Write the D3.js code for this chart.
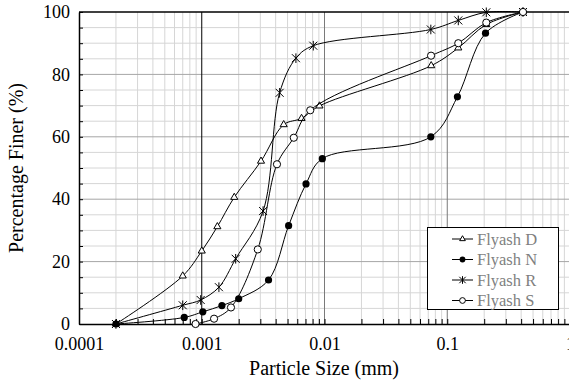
<!DOCTYPE html>
<html>
<head>
<meta charset="utf-8">
<script src="https://cdn.jsdelivr.net/npm/d3@7"></script>
<style>
	body { margin: 0; background: #fff; }
	text { font-family: 'Liberation Serif', 'Times New Roman', serif; }
</style>
</head>
<body>
<svg id="viz"></svg>
<script>
// particle size (mm) and percentage finer for each fly ash
var sizesD = [ 0.0002, 0.0007, 0.001, 0.00134, 0.00184, 0.00304, 0.00465, 0.0065, 0.0091, 0.074, 0.123, 0.208, 0.414 ];
var finerD = [ 0, 15.4, 23.4, 31.2, 40.6, 52.2, 63.9, 65.9, 69.9, 82.8, 88.5, 96, 100 ];

var sizesN = [ 0.0002, 0.00072, 0.00102, 0.00146, 0.002, 0.0035, 0.0051, 0.00707, 0.0096, 0.0735, 0.121, 0.205, 0.414 ];
var finerN = [ 0, 2.1, 3.9, 5.9, 8.1, 14.1, 31.5, 44.9, 53, 60, 72.8, 93.2, 100 ];

var sizesR = [ 0.0002, 0.0007, 0.00098, 0.00138, 0.00189, 0.00316, 0.00431, 0.00585, 0.0081, 0.0735, 0.123, 0.208, 0.414 ];
var finerR = [ 0, 6, 7.7, 11.8, 20.9, 36.2, 74.1, 85.2, 89.2, 94.4, 97.3, 99.9, 100 ];

var sizesS = [ 0.00089, 0.00126, 0.00173, 0.00286, 0.0041, 0.00562, 0.00765, 0.0738, 0.123, 0.208, 0.414 ];
var finerS = [ 0, 1.7, 5.3, 23.9, 51.2, 59.7, 68.5, 86, 90, 96.6, 100 ];

var seriesNames = [ 'Flyash D', 'Flyash N', 'Flyash R', 'Flyash S' ];
var xTickValues = [ 0.0001, 0.001, 0.01, 0.1, 1 ];
var yTickValues = [ 0, 20, 40, 60, 80, 100 ];

var series = [
	{ name: seriesNames[0], marker: 'triangle', x: sizesD, y: finerD },
	{ name: seriesNames[1], marker: 'dot', x: sizesN, y: finerN },
	{ name: seriesNames[2], marker: 'star', x: sizesR, y: finerR },
	{ name: seriesNames[3], marker: 'circle', x: sizesS, y: finerS }
];

var width = 569, height = 385;
var plotLeft = 79, plotTop = 12, plotRight = 570, plotBottom = 324;

var svg = d3.select( '#viz' )
	.attr( 'width', width )
	.attr( 'height', height );

var xScale = d3.scaleLog()
	.domain( [ 0.0001, 1 ] )
	.range( [ plotLeft, plotRight ] );
var yScale = d3.scaleLinear()
	.domain( [ 0, 100 ] )
	.range( [ plotBottom, plotTop ] );

// minor log positions 2..9 in each decade
var minorX = [];
xTickValues.slice( 0, -1 ).forEach( function ( d ) {
	for ( var k = 2; k <= 9; k++ ) minorX.push( d * k );
} );
var minorY = d3.range( 5, 100, 5 ).filter( function ( d ) { return d % 20 !== 0; } );

var grid = svg.append( 'g' );
grid.selectAll( 'line.mx' )
	.data( minorX )
	.enter()
	.append( 'line' )
	.attr( 'x1', function ( d ) { return xScale( d ); } )
	.attr( 'x2', function ( d ) { return xScale( d ); } )
	.attr( 'y1', plotTop )
	.attr( 'y2', plotBottom )
	.attr( 'stroke', '#d6d6d6' )
	.attr( 'stroke-width', 1 );
grid.selectAll( 'line.my' )
	.data( minorY )
	.enter()
	.append( 'line' )
	.attr( 'x1', plotLeft )
	.attr( 'x2', plotRight )
	.attr( 'y1', function ( d ) { return yScale( d ); } )
	.attr( 'y2', function ( d ) { return yScale( d ); } )
	.attr( 'stroke', '#d6d6d6' )
	.attr( 'stroke-width', 1 );
grid.selectAll( 'line.ymaj' )
	.data( yTickValues.slice( 1, -1 ) )
	.enter()
	.append( 'line' )
	.attr( 'x1', plotLeft )
	.attr( 'x2', plotRight )
	.attr( 'y1', function ( d ) { return yScale( d ); } )
	.attr( 'y2', function ( d ) { return yScale( d ); } )
	.attr( 'stroke', '#a6a6a6' )
	.attr( 'stroke-width', 1 );
grid.selectAll( 'line.xmaj' )
	.data( xTickValues.slice( 1, -1 ) )
	.enter()
	.append( 'line' )
	.attr( 'x1', function ( d ) { return xScale( d ); } )
	.attr( 'x2', function ( d ) { return xScale( d ); } )
	.attr( 'y1', plotTop )
	.attr( 'y2', plotBottom )
	.attr( 'stroke', function ( d, i ) { return i === 0 ? '#000' : '#7a7a7a'; } )
	.attr( 'stroke-width', 1 );

// axes with inward ticks
var xAxis = d3.axisBottom( xScale )
	.tickValues( minorX.concat( xTickValues ) )
	.tickSizeInner( -5 )
	.tickSizeOuter( 0 )
	.tickFormat( function ( d ) { return xTickValues.indexOf( d ) >= 0 ? d3.format( '~g' )( d ) : ''; } );
var gx = svg.append( 'g' )
	.attr( 'transform', 'translate(0,' + plotBottom + ')' )
	.call( xAxis );
gx.attr( 'font-family', null ).attr( 'font-size', null );
gx.select( '.domain' ).attr( 'stroke', '#000' ).attr( 'stroke-width', 1.5 );
gx.selectAll( '.tick line' ).attr( 'stroke', '#000' );
gx.selectAll( '.tick text' )
	.attr( 'y', 13 )
	.attr( 'font-size', 18 )
	.attr( 'fill', '#000' );

var yAxis = d3.axisLeft( yScale )
	.tickValues( d3.range( 0, 101, 5 ) )
	.tickSizeInner( -4 )
	.tickSizeOuter( 0 )
	.tickFormat( function ( d ) { return d % 20 === 0 ? d : ''; } );
var gy = svg.append( 'g' )
	.attr( 'transform', 'translate(' + plotLeft + ',0)' )
	.call( yAxis );
gy.attr( 'font-family', null ).attr( 'font-size', null );
gy.select( '.domain' ).attr( 'stroke', '#000' ).attr( 'stroke-width', 1.5 );
gy.selectAll( '.tick line' ).attr( 'stroke', '#000' );
gy.selectAll( '.tick text' )
	.attr( 'x', -9 )
	.attr( 'font-size', 18 )
	.attr( 'fill', '#000' );

svg.append( 'line' )
	.attr( 'x1', plotLeft )
	.attr( 'x2', plotRight )
	.attr( 'y1', plotTop )
	.attr( 'y2', plotTop )
	.attr( 'stroke', '#000' )
	.attr( 'stroke-width', 1.5 );

svg.append( 'text' )
	.attr( 'x', 324 )
	.attr( 'y', 375 )
	.attr( 'text-anchor', 'middle' )
	.attr( 'font-size', 20 )
	.text( 'Particle Size (mm)' );
svg.append( 'text' )
	.attr( 'transform', 'translate(23,' + ( ( plotTop + plotBottom ) / 2 ) + ') rotate(-90)' )
	.attr( 'text-anchor', 'middle' )
	.attr( 'font-size', 20 )
	.text( 'Percentage Finer (%)' );

var drawMarker = function ( g, type, s ) {
	if ( type === 'triangle' ) {
		g.append( 'path' )
			.attr( 'd', d3.symbol( d3.symbolTriangle, 22 * s * s )() )
			.attr( 'fill', '#fff' )
			.attr( 'stroke', '#000' );
	} else if ( type === 'dot' ) {
		g.append( 'circle' )
			.attr( 'r', 3.6 * s )
			.attr( 'fill', '#000' );
	} else if ( type === 'circle' ) {
		g.append( 'circle' )
			.attr( 'r', 3.6 * s )
			.attr( 'fill', '#fff' )
			.attr( 'stroke', '#000' );
	} else {
		var r = 4 * s;
		g.append( 'path' )
			.attr( 'd', 'M' + ( -r ) + ',' + ( -r ) + 'L' + r + ',' + r + 'M' + ( -r ) + ',' + r + 'L' + r + ',' + ( -r ) + 'M0,' + ( -r * 1.2 ) + 'L0,' + ( r * 1.2 ) )
			.attr( 'fill', 'none' )
			.attr( 'stroke', '#000' );
	}
};

var line = d3.line()
	.x( function ( d ) { return xScale( d[0] ); } )
	.y( function ( d ) { return yScale( d[1] ); } )
	.curve( d3.curveCatmullRom.alpha( 0.5 ) );

series.forEach( function ( s ) {
	var pts = s.x.map( function ( x, i ) { return [ x, s.y[i] ]; } );
	svg.append( 'path' )
		.attr( 'd', line( pts ) )
		.attr( 'fill', 'none' )
		.attr( 'stroke', '#000' )
		.attr( 'stroke-width', 1 );
	svg.selectAll( null )
		.data( pts )
		.enter()
		.append( 'g' )
		.attr( 'transform', function ( d ) { return 'translate(' + xScale( d[0] ) + ',' + yScale( d[1] ) + ')'; } )
		.each( function () { drawMarker( d3.select( this ), s.marker, 1 ); } );
} );

// legend
var legend = svg.append( 'g' );
legend.append( 'rect' )
	.attr( 'x', 427.5 )
	.attr( 'y', 227.5 )
	.attr( 'width', 131 )
	.attr( 'height', 82 )
	.attr( 'fill', '#fff' )
	.attr( 'stroke', '#000' )
	.attr( 'stroke-width', 1 );
var rows = legend.selectAll( 'g' )
	.data( series )
	.enter()
	.append( 'g' )
	.attr( 'transform', function ( d, i ) { return 'translate(452,' + ( 239 + i * 20.5 ) + ')'; } );
rows.append( 'line' )
	.attr( 'x1', 0 )
	.attr( 'x2', 21 )
	.attr( 'stroke', '#000' );
rows.each( function ( d ) {
	var g = d3.select( this ).append( 'g' ).attr( 'transform', 'translate(10.5,0)' );
	drawMarker( g, d.marker, 0.8 );
} );
rows.append( 'text' )
	.attr( 'x', 25 )
	.attr( 'y', 5.5 )
	.attr( 'font-size', 16.5 )
	.attr( 'fill', '#7f7f7f' )
	.text( function ( d ) { return d.name; } );
</script>
</body>
</html>
